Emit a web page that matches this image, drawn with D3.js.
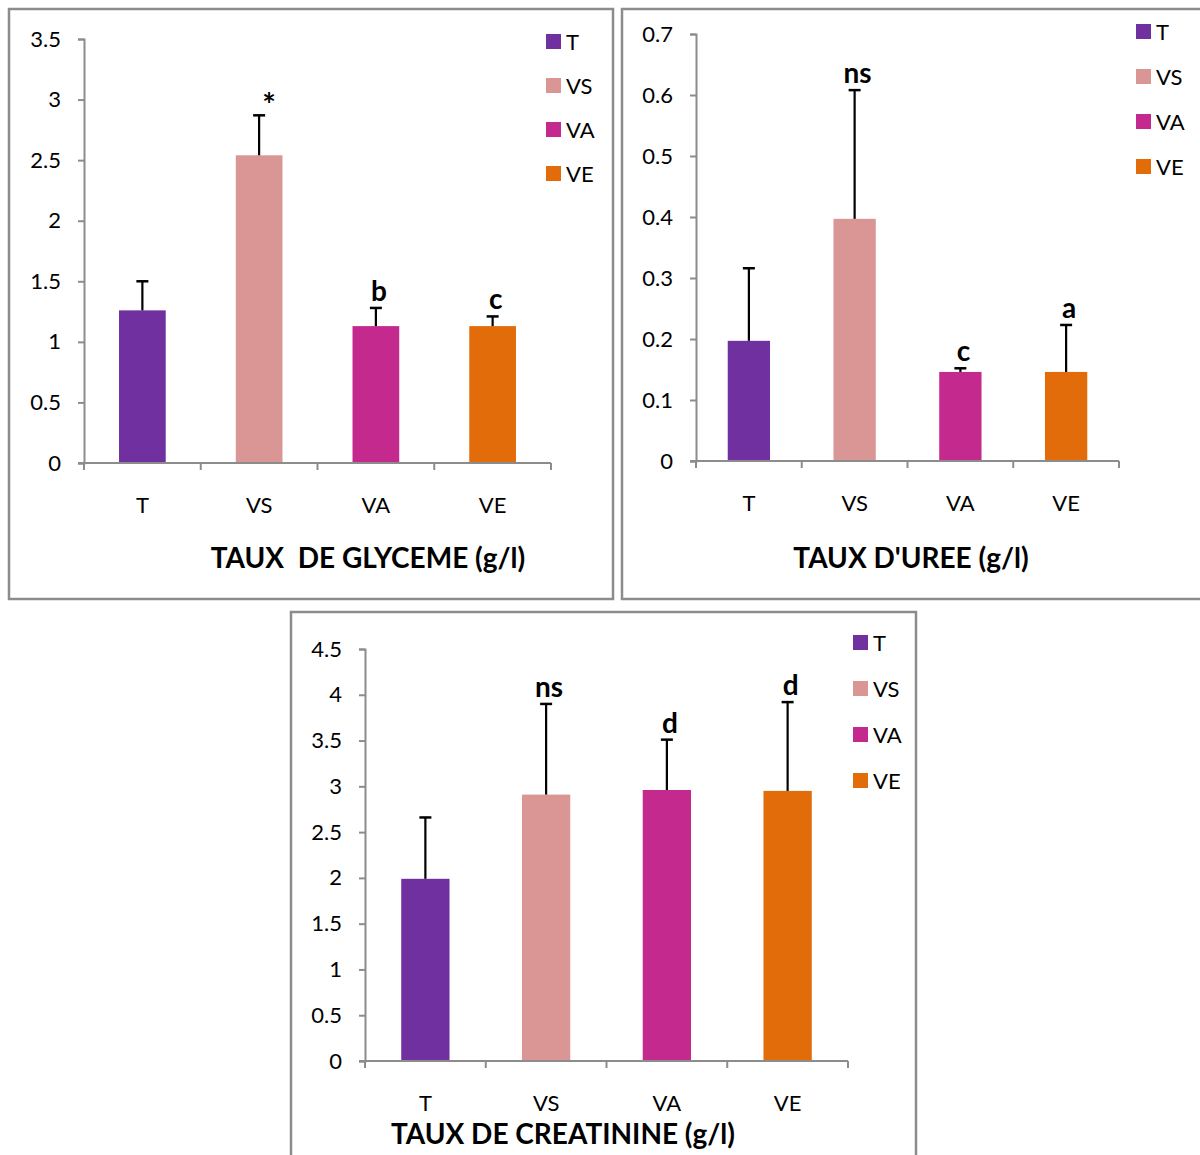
<!DOCTYPE html>
<html>
<head>
<meta charset="utf-8">
<script src="https://cdn.jsdelivr.net/npm/d3@7"></script>
<style>
  body { margin: 0; background: #fff; }
  svg text { font-family: Lato, "Open Sans", sans-serif; fill: #000; }
</style>
</head>
<body>
<div id="chart"></div>
<script>
/* DATA */
const groups = ["T", "VS", "VA", "VE"];
const colors = ["#7030A0", "#D99694", "#C4298D", "#E36C0A"];

const glycemeValues = [1.26, 2.54, 1.13, 1.13];
const glycemeErrors = [0.24, 0.33, 0.15, 0.08];
const glycemeMarks = ["", "*", "b", "c"];
const glycemeTicks = [0, 0.5, 1, 1.5, 2, 2.5, 3, 3.5];

const ureeValues = [0.197, 0.397, 0.146, 0.146];
const ureeErrors = [0.119, 0.211, 0.006, 0.077];
const ureeMarks = ["", "ns", "c", "a"];
const ureeTicks = [0, 0.1, 0.2, 0.3, 0.4, 0.5, 0.6, 0.7];

const creatValues = [1.99, 2.91, 2.96, 2.95];
const creatErrors = [0.67, 0.99, 0.55, 0.97];
const creatMarks = ["", "ns", "d", "d"];
const creatTicks = [0, 0.5, 1, 1.5, 2, 2.5, 3, 3.5, 4, 4.5];

/* CONSTANTS */
const width = 1200, height = 1155;
const axisColor = "#8c8c8c";

const svg = d3.select("#chart")
  .append("svg")
  .attr("width", width)
  .attr("height", height);

// one panel = framed box with its own bar chart
function drawPanel(p) {
  // frame
  svg.append("rect")
    .attr("x", p.box[0]).attr("y", p.box[1])
    .attr("width", p.box[2]).attr("height", p.box[3])
    .attr("fill", "#fff")
    .attr("stroke", axisColor)
    .attr("stroke-width", 2.5);

  const xScale = d3.scaleBand()
    .domain(groups)
    .range([p.x0, p.x1])
    .paddingInner(0.6)
    .paddingOuter(0.3);

  const yScale = d3.scaleLinear()
    .domain([0, d3.max(p.ticks)])
    .range([p.y0, p.y1]);

  const g = svg.append("g");

  // bars
  g.selectAll(".bar")
    .data(p.values)
    .join("rect")
    .attr("x", (d, i) => xScale(groups[i]))
    .attr("y", d => yScale(d))
    .attr("width", xScale.bandwidth())
    .attr("height", d => yScale(0) - yScale(d))
    .attr("fill", (d, i) => colors[i]);

  // error bars (upper only)
  const err = g.selectAll(".err")
    .data(p.values)
    .join("g")
    .attr("transform", (d, i) => `translate(${xScale(groups[i]) + xScale.bandwidth() / 2},0)`);

  err.append("line")
    .attr("y1", d => yScale(d))
    .attr("y2", (d, i) => yScale(d + p.errors[i]))
    .attr("stroke", "#000")
    .attr("stroke-width", 2.2);

  err.append("line")
    .attr("x1", -6).attr("x2", 6)
    .attr("y1", (d, i) => yScale(d + p.errors[i]))
    .attr("y2", (d, i) => yScale(d + p.errors[i]))
    .attr("stroke", "#000")
    .attr("stroke-width", 2.5);

  // significance marks
  err.append("text")
    .attr("x", (d, i) => p.marks[i] === "*" ? 10 : 3)
    .attr("y", (d, i) => yScale(d + p.errors[i]) - (p.marks[i] === "*" ? -2 : 7))
    .attr("text-anchor", "middle")
    .style("font-size", (d, i) => p.marks[i] === "*" ? "32px" : "28px")
    .style("font-weight", "bold")
    .text((d, i) => p.marks[i]);

  // y axis
  const yAxis = d3.axisLeft(yScale)
    .tickValues(p.ticks)
    .tickSize(6)
    .tickPadding(17)
    .tickFormat(d3.format("~g"));

  const yAxisGroup = svg.append("g")
    .attr("transform", `translate(${p.x0},0)`)
    .call(yAxis);
  yAxisGroup.select(".domain").attr("stroke", axisColor).attr("stroke-width", 2);
  yAxisGroup.selectAll(".tick line").attr("stroke", axisColor).attr("stroke-width", 2);
  yAxisGroup.selectAll(".tick text").style("font-size", "22px").attr("fill", "#000");

  // x axis: ticks between categories
  const xAxisGroup = svg.append("g")
    .attr("transform", `translate(0,${p.y0})`);
  xAxisGroup.append("line")
    .attr("x1", p.x0 - 6).attr("x2", p.x1)
    .attr("stroke", axisColor).attr("stroke-width", 2);
  const step = (p.x1 - p.x0) / groups.length;
  xAxisGroup.selectAll(".xtick")
    .data(d3.range(groups.length + 1))
    .join("line")
    .attr("x1", d => p.x0 + d * step).attr("x2", d => p.x0 + d * step)
    .attr("y1", 0).attr("y2", 7)
    .attr("stroke", axisColor).attr("stroke-width", 2);
  xAxisGroup.selectAll(".xlabel")
    .data(groups)
    .join("text")
    .attr("x", d => xScale(d) + xScale.bandwidth() / 2)
    .attr("y", p.labelDy)
    .attr("text-anchor", "middle")
    .style("font-size", "22px")
    .text(d => d);

  // title
  svg.append("text")
    .attr("x", p.titleX)
    .attr("y", p.titleY)
    .attr("text-anchor", "middle")
    .style("font-size", "28px")
    .style("font-weight", "bold")
    .style("white-space", "pre")
    .text(p.title);

  // legend
  const leg = svg.append("g")
    .attr("transform", `translate(${p.legX},${p.legY})`);
  const item = leg.selectAll(".leg")
    .data(groups)
    .join("g")
    .attr("transform", (d, i) => `translate(0,${i * p.legStep})`);
  item.append("rect")
    .attr("x", 0).attr("y", -8)
    .attr("width", 15).attr("height", 15)
    .attr("fill", (d, i) => colors[i]);
  item.append("text")
    .attr("x", 20).attr("y", 8)
    .style("font-size", "22px")
    .text(d => d);
}

drawPanel({
  box: [9, 9, 604, 590],
  x0: 84, x1: 551, y0: 463, y1: 39,
  values: glycemeValues, errors: glycemeErrors, marks: glycemeMarks, ticks: glycemeTicks,
  labelDy: 50, title: "TAUX  DE GLYCEME (g/l)", titleX: 368, titleY: 568,
  legX: 546, legY: 42, legStep: 44
});

drawPanel({
  box: [622, 9, 600, 590],
  x0: 696, x1: 1119, y0: 461, y1: 34,
  values: ureeValues, errors: ureeErrors, marks: ureeMarks, ticks: ureeTicks,
  labelDy: 50, title: "TAUX D'UREE (g/l)", titleX: 911, titleY: 568,
  legX: 1136, legY: 32, legStep: 45
});

drawPanel({
  box: [291, 612, 625, 560],
  x0: 365, x1: 848, y0: 1061, y1: 649,
  values: creatValues, errors: creatErrors, marks: creatMarks, ticks: creatTicks,
  labelDy: 50, title: "TAUX DE CREATININE (g/l)", titleX: 563, titleY: 1144,
  legX: 853, legY: 643, legStep: 46
});
</script>
</body>
</html>
